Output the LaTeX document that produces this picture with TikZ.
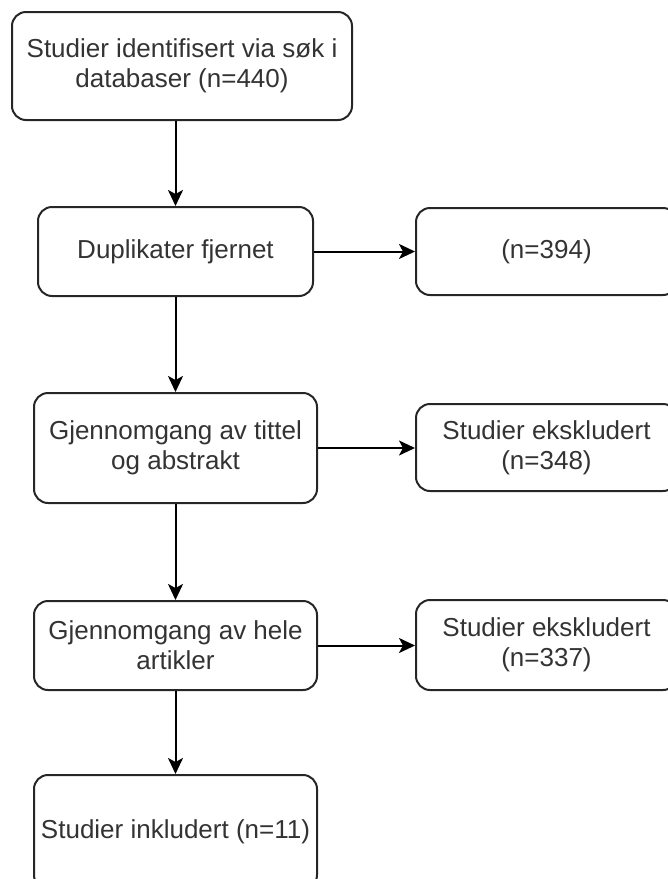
\documentclass[tikz,border=0pt]{standalone}
\usepackage{fontspec}
\setmainfont{Liberation Sans}
\usetikzlibrary{arrows.meta}
\begin{document}
\begin{tikzpicture}[x=1pt,y=-1pt,
  box/.style={draw=black!85, line width=2pt, rounded corners=14pt, align=center,
    inner sep=0pt, font=\fontsize{26}{30}\selectfont, text=black!80},
  arr/.style={draw=black, line width=2pt, -{Stealth[length=16pt,width=15pt,inset=4pt]}}]
\useasboundingbox (0,0) rectangle (668,879);
\clip (0,0) rectangle (668,879);
\node[box, minimum width=340pt, minimum height=108pt] (b1) at (182,66) {Studier identifisert via søk i\\databaser (n=440)};
\node[box, minimum width=275pt, minimum height=89pt] (b2) at (175.5,251.5) {Duplikater fjernet};
\node[box, minimum width=261pt, minimum height=87pt] (b3) at (546.5,251.5) {(n=394)};
\node[box, minimum width=283pt, minimum height=110pt] (b4) at (175.5,448) {Gjennomgang av tittel\\og abstrakt};
\node[box, minimum width=261pt, minimum height=87pt] (b5) at (546.5,447.5) {Studier ekskludert\\(n=348)};
\node[box, minimum width=283pt, minimum height=89pt] (b6) at (175.5,645.5) {Gjennomgang av hele\\artikler};
\node[box, minimum width=261pt, minimum height=90pt] (b7) at (546.5,645) {Studier ekskludert\\(n=337)};
\node[box, minimum width=283pt, minimum height=114pt] (b8) at (175.5,832) {Studier inkludert (n=11)};
\coordinate (a1) at (b2.north |- b1.south);
\draw[arr] (a1) -- (b2.north);
\draw[arr] (b2.south) -- (b4.north);
\draw[arr] (b4.south) -- (b6.north);
\draw[arr] (b6.south) -- (b8.north);
\draw[arr] (b2.east) -- (b3.west);
\draw[arr] (b4.east) -- (b4.east -| b5.west);
\draw[arr] (b6.east) -- (b6.east -| b7.west);
\end{tikzpicture}
\end{document}
